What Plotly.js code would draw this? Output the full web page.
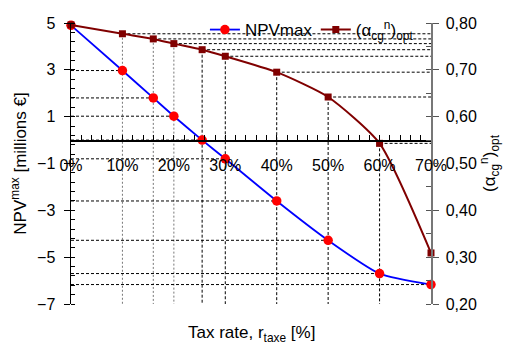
<!DOCTYPE html>
<html>
<head>
<meta charset="utf-8">
<script src="https://cdn.plot.ly/plotly-3.0.1.min.js"></script>
<style>html,body{margin:0;padding:0;background:#fff;}#chart{width:508px;height:344px;}</style>
</head>
<body>
<div id="chart"></div>
<script>
// Data
const taxRate = [0, 10, 16, 20, 25.5, 30, 40, 50, 60, 70];            // %
const npvMax = [4.9, 2.97, 1.8, 1.02, 0.0, -0.8, -2.6, -4.28, -5.7, -6.17]; // millions €
const alphaOpt = [0.796, 0.777, 0.766, 0.756, 0.743, 0.729, 0.695, 0.642, 0.543, 0.309];
const xTickVals = [0, 10, 20, 30, 40, 50, 60, 70];
const xTickText = ["0%", "10%", "20%", "30%", "40%", "50%", "60%", "70%"];
const yLeftTicks = [5, 3, 1, -1, -3, -5, -7];
const yRightTicks = [0.2, 0.3, 0.4, 0.5, 0.6, 0.7, 0.8];

const FONT = "Liberation Sans, Arial, sans-serif";
const TICK = 16, TITLE = 17;
const yMin = -7, yMax = 5, y2Min = 0.2, y2Max = 0.8, xMin = 0, xMax = 70;

// drop lines from data
const shapes = [];
for (let i = 1; i < taxRate.length; i++) {
  const xv = taxRate[i];
  const vcol = xv < 25 ? "#777" : "#000";
  const vdash = xv < 25 ? "2px,2px" : "3px,2px";
  shapes.push({type: "line", xref: "x", yref: "y", x0: xMin, x1: xv, y0: npvMax[i], y1: npvMax[i],
    line: {color: "#000", width: 1, dash: "3px,2px"}, layer: "below"});
  shapes.push({type: "line", xref: "x", yref: "y2", x0: xv, x1: xMax, y0: alphaOpt[i], y1: alphaOpt[i],
    line: {color: "#000", width: 1, dash: "3px,2px"}, layer: "below"});
  if (i < taxRate.length - 1) {
    shapes.push({type: "line", xref: "x", yref: "y2", x0: xv, x1: xv, y0: alphaOpt[i], y1: y2Min,
      line: {color: vcol, width: 1, dash: vdash}, layer: "below"});
  }
}

const traces = [
  {x: taxRate, y: npvMax, name: "NPVmax", type: "scatter", mode: "lines+markers", legend: "legend",
   line: {color: "#0000ff", width: 1.8, shape: "spline", smoothing: 0.6},
   marker: {color: "#ff0000", size: 9.5, symbol: "circle"}, cliponaxis: false},
  {x: taxRate, y: alphaOpt, name: "(α<sub>cg</sub><sup>n</sup>)<sub>opt</sub>", yaxis: "y2", legend: "legend2",
   type: "scatter", mode: "lines+markers",
   line: {color: "#800000", width: 2, shape: "spline", smoothing: 0.6},
   marker: {color: "#800000", size: 7, symbol: "square"}, cliponaxis: false}
];

const legendBase = {orientation: "h", xanchor: "left", y: 0.975, yanchor: "middle",
  bgcolor: "rgba(0,0,0,0)", font: {family: FONT, size: TITLE}, itemwidth: 30};

const layout = {
  width: 508, height: 344,
  margin: {l: 71, r: 77, t: 20, b: 40, pad: 0},
  paper_bgcolor: "#fff", plot_bgcolor: "rgba(0,0,0,0)",
  separators: ",.",
  font: {family: FONT, size: TICK, color: "#000"},
  showlegend: true,
  legend: Object.assign({}, legendBase, {x: 0.372}),
  legend2: Object.assign({}, legendBase, {x: 0.68}),
  xaxis: {range: [xMin, xMax], anchor: "free", position: (0 - yMin) / (yMax - yMin),
    tickvals: xTickVals, ticktext: xTickText, ticks: "inside", ticklen: 5, tickcolor: "#000",
    showline: true, linecolor: "#000", linewidth: 1.5, showgrid: false, zeroline: false,
    minor: {dtick: 2, tick0: 0, ticks: "inside", ticklen: 5, tickcolor: "#000", showgrid: false},
    tickfont: {family: FONT, size: TICK}, ticklabelstandoff: 10},
  yaxis: {range: [yMin, yMax], tickvals: yLeftTicks, ticks: "outside", ticklen: 6, tickcolor: "#000",
    showline: true, linecolor: "#000", linewidth: 1.5, showgrid: false, zeroline: false,
    minor: {dtick: 0.4, tick0: -7, ticks: "inside", ticklen: 4, tickcolor: "#000", showgrid: false},
    tickfont: {family: FONT, size: TICK}, ticklabelstandoff: 5,
    title: {text: "NPV<sup>max</sup> [millions €]", font: {family: FONT, size: TITLE}, standoff: 6}},
  yaxis2: {range: [y2Min, y2Max], overlaying: "y", side: "right", tickvals: yRightTicks, tickformat: ".2f",
    ticks: "outside", ticklen: 6, tickcolor: "#555",
    showline: true, linecolor: "#777", linewidth: 1.5, showgrid: false, zeroline: false,
    minor: {dtick: 0.05, tick0: 0.2, ticks: "inside", ticklen: 5, tickcolor: "#555", showgrid: false},
    tickfont: {family: FONT, size: TICK}, ticklabelstandoff: 4,
    title: {text: "(α<sub>cg</sub><sup>n</sup>)<sub>opt</sub>", font: {family: FONT, size: TITLE}, standoff: 6}},
  shapes: shapes,
  annotations: [{text: "Tax rate, r<sub>taxe</sub> [%]", xref: "paper", yref: "paper", x: 0.5, y: -0.06,
    xanchor: "center", yanchor: "top", showarrow: false, font: {family: FONT, size: TITLE}}]
};

Plotly.newPlot("chart", traces, layout, {displayModeBar: false, staticPlot: true});
</script>
</body>
</html>
